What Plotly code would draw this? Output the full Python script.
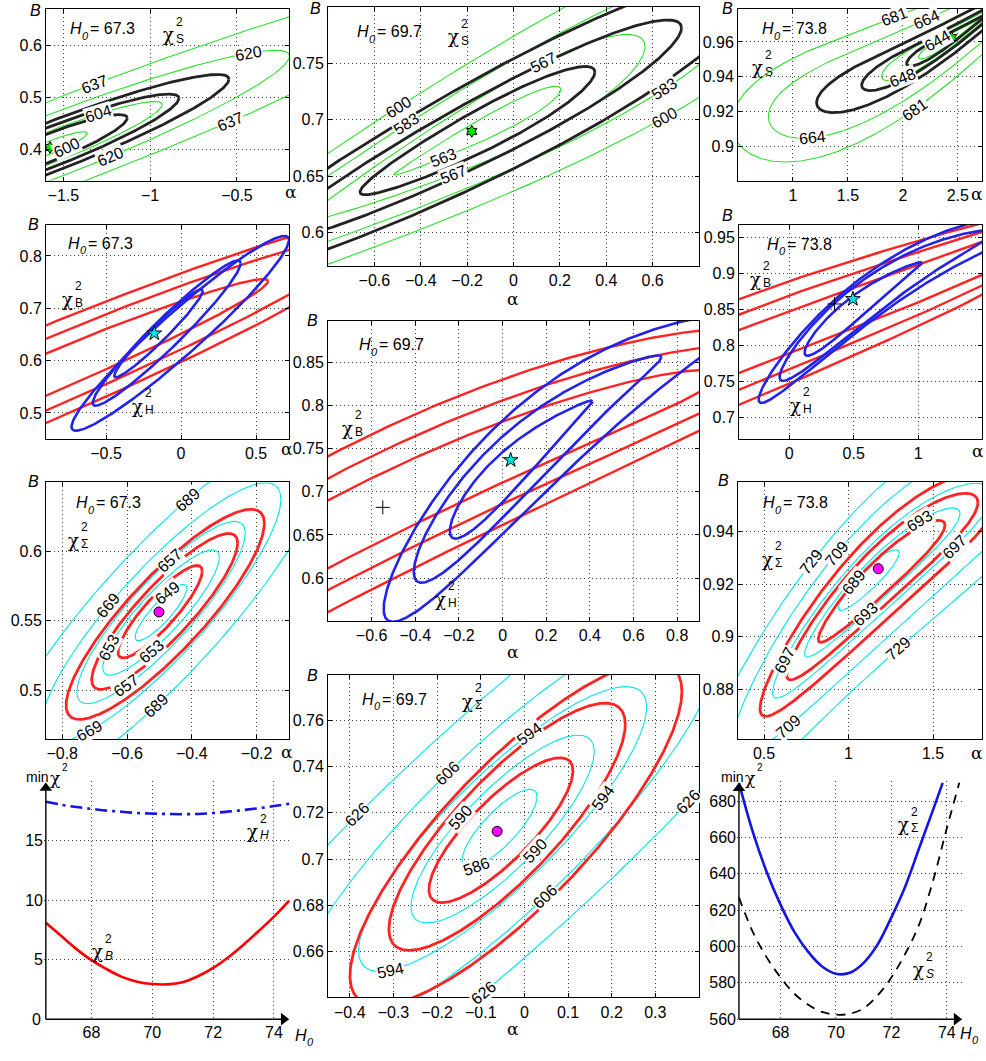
import numpy as np
import plotly.graph_objects as go

FIG_W, FIG_H = 986, 1061
FONT = "Liberation Sans, Arial, Helvetica, sans-serif"
SERIF = "DejaVu Serif, Liberation Serif, serif"

# ---------------- tick values ----------------
A_xticks = [-1.5, -1, -0.5]; A_yticks = [0.4, 0.5, 0.6]
B_xticks = [-0.6, -0.4, -0.2, 0, 0.2, 0.4, 0.6]; B_yticks = [0.6, 0.65, 0.7, 0.75]
C_xticks = [1, 1.5, 2, 2.5]; C_yticks = [0.9, 0.92, 0.94, 0.96]
D_xticks = [-0.5, 0, 0.5]; D_yticks = [0.5, 0.6, 0.7, 0.8]
E_xticks = [0, 0.5, 1]; E_yticks = [0.7, 0.75, 0.8, 0.85, 0.9, 0.95]
F_xticks = [-0.6, -0.4, -0.2, 0, 0.2, 0.4, 0.6, 0.8]; F_yticks = [0.6, 0.65, 0.7, 0.75, 0.8, 0.85]
G_xticks = [-0.8, -0.6, -0.4, -0.2]; G_yticks = [0.5, 0.55, 0.6]
H_xticks = [0.5, 1, 1.5]; H_yticks = [0.88, 0.9, 0.92, 0.94]
I_xticks = [-0.4, -0.3, -0.2, -0.1, 0, 0.1, 0.2, 0.3]; I_yticks = [0.66, 0.68, 0.7, 0.72, 0.74, 0.76]
J_xticks = [68, 70, 72, 74]; J_yticks = [0, 5, 10, 15]
K_xticks = [68, 70, 72, 74]; K_yticks = [560, 580, 600, 620, 640, 660, 680]

H0_values = ["67.3", "69.7", "73.8"]

# ---------------- contour families: (alpha_c, B_c, slope, half-length, half-width) ----------------
# Panel A  (H0 = 67.3, chi2_S)
A_star = (-1.577, 0.404)
A_black = [(-1.577, 0.404, 0.127, 0.445, 0.028), (-1.577, 0.404, 0.127, 0.743, 0.040),
           (-1.577, 0.404, 0.127, 1.031, 0.050)]
A_green = [(-1.577, 0.404, 0.127, 0.215, 0.013), (-1.577, 0.404, 0.127, 0.647, 0.032),
           (-1.577, 0.404, 0.127, 1.38, 0.064), (-1.577, 0.404, 0.127, 2.6, 0.09)]
A_green_lv = [600, 604, 620, 637]
A_green_at = [[(-1.48, -1)], [(-1.295, 1)], [(-1.227, -1), (-0.436, 1)], [(-1.323, 1), (-0.536, -1)]]

# Panel B  (H0 = 69.7, chi2_S)
B_star = (-0.18, 0.6896)
B_black = [(-0.1555, 0.689, 0.105, 0.5065, 0.02), (-0.1555, 0.689, 0.105, 0.88, 0.031),
           (-0.1555, 0.689, 0.105, 1.2, 0.048)]
B_green = [(-0.1555, 0.689, 0.105, 0.36, 0.01), (-0.1555, 0.689, 0.105, 0.7225, 0.029),
           (-0.1555, 0.689, 0.105, 1.25, 0.046), (-0.1555, 0.689, 0.105, 1.7, 0.066)]
B_green_lv = [563, 567, 583, 600]
B_green_at = [[(-0.30, -1)], [(0.1286, 1), (-0.26, -1)], [(-0.46, 1), (0.653, -1)], [(-0.498, 1), (0.653, -1)]]

# Panel C  (H0 = 73.8, chi2_S)
C_star = (2.443, 0.9625)
C_black = [(2.443, 0.9625, 0.0396, 0.409, 0.0035), (2.443, 0.9625, 0.0396, 0.818, 0.0065),
           (2.443, 0.9625, 0.0396, 1.228, 0.0102)]
C_green = [(2.443, 0.9625, 0.0396, 0.30, 0.0025), (2.443, 0.9625, 0.0396, 0.637, 0.0055),
           (2.443, 0.9625, 0.0396, 1.667, 0.017), (2.443, 0.9625, 0.0396, 2.0, 0.025)]
C_green_lv = [644, 648, 664, 681]
C_green_at = [[(2.318, 1)], [(2.0, -1)], [(2.215, 1), (1.182, -1)], [(1.927, 1), (2.109, -1)]]

# Panel D  (H0 = 67.3, chi2_B red, chi2_H blue)
D_star = (-0.178, 0.652)
D_blue = [(-0.15, 0.652, 0.2746, 0.295, 0.022), (-0.0955, 0.6525, 0.2705, 0.4935, 0.038),
          (-0.005, 0.652, 0.246, 0.725, 0.053)]
D_red = [(-1.2, 0.538, 0.12, 1.78, 0.042), (-1.2, 0.538, 0.12, 2.43, 0.07), (-1.2, 0.538, 0.12, 2.78, 0.094)]

# Panel E  (H0 = 73.8)
E_star = (0.494, 0.8644); E_plus = (0.351, 0.8575)
E_blue = [(0.574, 0.8605, 0.137, 0.455, 0.018), (0.775, 0.886, 0.119, 0.85, 0.028),
          (0.962, 0.907, 0.104, 1.2, 0.032)]
E_red = [(-2.0, 0.682, 0.068, 5.5, 0.0314), (-2.0, 0.682, 0.068, 4.7, 0.0569),
         (-2.0, 0.682, 0.068, 4.5, 0.0796)]

# Panel F  (H0 = 69.7)
F_star = (0.037, 0.7367); F_plus = (-0.549, 0.682)
F_blue = [(0.0845, 0.737, 0.23, 0.3265, 0.026), (0.1605, 0.7541, 0.2194, 0.5675, 0.042),
          (0.30, 0.7833, 0.1998, 0.845, 0.058)]
F_red = [(-0.8, 0.651, 0.1318, 1.801, 0.0394), (-0.8, 0.651, 0.1318, 2.11, 0.0648),
         (-0.8, 0.651, 0.1318, 2.237, 0.0902)]

# Panel G  (H0 = 67.3, chi2_Sigma)
G_dot = (-0.5013, 0.5564)
G_red = [(-0.4978, 0.5566, 0.224, 0.13, 0.016), (-0.4837, 0.5568, 0.218, 0.2253, 0.027),
         (-0.482, 0.5547, 0.2134, 0.306, 0.038)]
G_cyan = [(-0.495, 0.556, 0.22, 0.08, 0.01), (-0.495, 0.556, 0.22, 0.18, 0.0215),
          (-0.495, 0.556, 0.22, 0.26, 0.032), (-0.495, 0.556, 0.22, 0.37, 0.0455),
          (-0.495, 0.556, 0.22, 0.52, 0.064)]
G_cyan_lv = [649, 653, 657, 669, 689]
G_cyan_at = [[(-0.4737, 1)], [(-0.655, 1), (-0.525, -1)], [(-0.4685, 1), (-0.6017, -1)],
             [(-0.6583, 1), (-0.7146, -1)], [(-0.412, 1), (-0.5094, -1)]]

# Panel H  (H0 = 73.8, chi2_Sigma)
H_dot = (1.176, 0.9259)
H_red = [(1.196, 0.9233, 0.0579, 0.375, 0.008), (1.2, 0.924, 0.058, 0.566, 0.013),
         (1.2, 0.924, 0.058, 0.724, 0.019)]
H_cyan = [(1.12, 0.922, 0.058, 0.18, 0.005), (1.2, 0.924, 0.058, 0.46, 0.0095),
          (1.2, 0.924, 0.058, 0.65, 0.015), (1.2, 0.924, 0.058, 0.9, 0.026),
          (1.2, 0.924, 0.058, 1.2, 0.034)]
H_cyan_lv = [689, 693, 697, 709, 729]
H_cyan_at = [[(1.028, 1)], [(1.423, 1), (1.098, -1)], [(0.62, 1), (1.63, -1)],
             [(0.930, 1), (0.644, -1)], [(0.782, 1), (1.295, -1)]]

# Panel I  (H0 = 69.7, chi2_Sigma)
I_dot = (-0.0625, 0.712)
I_red = [(-0.0538, 0.7125, 0.156, 0.165, 0.018), (-0.0397, 0.714, 0.164, 0.2708, 0.03),
         (-0.0195, 0.711, 0.162, 0.3803, 0.042)]
I_cyan = [(-0.057, 0.7132, 0.16, 0.086, 0.01), (-0.05, 0.713, 0.16, 0.21, 0.023),
          (-0.05, 0.713, 0.16, 0.33, 0.032), (-0.05, 0.713, 0.16, 0.5, 0.046),
          (-0.05, 0.713, 0.16, 0.9, 0.064)]
I_cyan_lv = [586, 590, 594, 606, 626]
I_cyan_at = [[(-0.11, -1)], [(-0.1465, 1), (0.0252, -1)], [(0.0121, 1), (0.18, -1), (-0.3066, -1)],
             [(-0.177, 1), (0.048, -1)], [(-0.383, 1), (0.376, -1), (-0.093, -1)]]

# Panel J: min chi2 vs H0
J_H0 = [66.5, 67, 67.5, 68, 68.5, 69, 69.5, 70, 70.5, 71, 71.5, 72, 72.5, 73, 73.5, 74, 74.5]
J_chiB = [8.1, 7.0, 5.9, 4.95, 4.2, 3.55, 3.15, 2.95, 2.92, 3.1, 3.6, 4.3, 5.2, 6.25, 7.4, 8.6, 9.95]
J_chiH = [18.25, 18.0, 17.8, 17.65, 17.5, 17.4, 17.3, 17.25, 17.22, 17.2, 17.22, 17.3, 17.42, 17.55,
          17.7, 17.88, 18.08]

# Panel K
K_H0_sig = [66.5, 67, 67.5, 68, 68.5, 69, 69.5, 70, 70.5, 71, 71.5, 72, 72.5, 73, 73.5, 73.85]
K_chiSig = [690, 663, 641, 623, 608, 597, 589, 585, 585.5, 591, 601, 616, 633, 654, 675, 690]
K_H0_S = [66.5, 67, 67.5, 68, 68.5, 69, 69.5, 70, 70.5, 71, 71.5, 72, 72.5, 73, 73.5, 74, 74.45]
K_chiS = [627, 608, 594, 583, 574, 568, 564, 562.5, 563, 566, 573, 583, 596, 612, 636, 665, 690]

# axis origins / arrow ends of the two min-chi2 panels
J_axis = dict(x0=66.5, y0=0, x1=74.5, y1=19.85)
K_axis = dict(x0=66.5, y0=560, x1=74.55, y1=690)

# ---------------- layout of panels ----------------
PANELS = {
    'A': (1, (46, 9, 289, 182), (-1.6, -0.2), (0.34, 0.67), A_xticks, A_yticks),
    'B': (2, (328, 7, 699, 268), (-0.8, 0.8), (0.57, 0.80), B_xticks, B_yticks),
    'C': (3, (738, 9, 982, 182), (0.5, 2.72), (0.88, 0.979), C_xticks, C_yticks),
    'D': (4, (46, 226, 289, 442), (-0.9, 0.72), (0.45, 0.86), D_xticks, D_yticks),
    'E': (5, (739, 226, 982, 442), (-0.39, 1.496), (0.6696, 0.968), E_xticks, E_yticks),
    'F': (6, (328, 323, 699, 625), (-0.8, 0.9), (0.5505, 0.898), F_xticks, F_yticks),
    'G': (7, (46, 485, 289, 744), (-0.85, -0.1), (0.465, 0.65), G_xticks, G_yticks),
    'H': (8, (738, 485, 982, 744), (0.346, 1.79), (0.861, 0.959), H_xticks, H_yticks),
    'I': (9, (328, 679, 699, 1004), (-0.45, 0.4), (0.64, 0.78), I_xticks, I_yticks),
    'J': (10, (44, 786, 291, 1028), (66.44, 74.56), (-0.17, 20.0), J_xticks, J_yticks),
    'K': (11, (737, 786, 964, 1028), (66.43, 74.62), (558.9, 691.1), K_xticks, K_yticks),
}

BLACK_C = 'rgb(35,35,35)'
GREEN_C = 'rgb(40,225,40)'
RED_C = 'rgb(255,35,35)'
BLUE_C = 'rgb(35,35,235)'
CYAN_C = 'rgb(0,232,232)'

fig = go.Figure()


def fmt(v):
    return f"{v:g}".replace('-', '\u2212')


def axnames(pid):
    i = PANELS[pid][0]
    return ('x' if i == 1 else f'x{i}'), ('y' if i == 1 else f'y{i}')


def scales(pid):
    _, (l, t, r, b), xr, yr, _, _ = PANELS[pid]
    return (r - l) / (xr[1] - xr[0]), (b - t) / (yr[1] - yr[0])


def ring(p, c, g, n=500):
    ac, bc, s, E, W = p
    t = np.linspace(0, 2 * np.pi, n)
    d = E * np.cos(t)
    return ac + d, bc + s * d + c * d * d + W * (1 - g * d / E) * np.sin(t)


def label_pt(p, c, g, alpha, branch, kx, ky):
    ac, bc, s, E, W = p
    u = np.clip((alpha - ac) / E, -1, 1)
    t = np.arccos(u) * branch
    d = E * np.cos(t)
    a = ac + d
    b = bc + s * d + c * d * d + W * (1 - g * d / E) * np.sin(t)
    da = -E * np.sin(t)
    db = (s + 2 * c * d) * da + W * ((-g * da / E) * np.sin(t) + (1 - g * d / E) * np.cos(t))
    ang = np.degrees(np.arctan2(-db * ky, da * kx))
    while ang > 90:
        ang -= 180
    while ang < -90:
        ang += 180
    return float(a), float(b), float(ang)


def family(pid, contours, color, width, c=0.0, g=0.0, levels=None, label_at=None):
    xa, ya = axnames(pid)
    kx, ky = scales(pid)
    for i, p in enumerate(contours):
        a, b = ring(p, c, g)
        fig.add_trace(go.Scatter(x=a, y=b, mode='lines', line=dict(color=color, width=width),
                                 xaxis=xa, yaxis=ya, hoverinfo='skip', showlegend=False))
        if levels is not None:
            for (al, br) in label_at[i]:
                lx, ly, ang = label_pt(p, c, g, al, br, kx, ky)
                fig.add_annotation(x=lx, y=ly, xref=xa, yref=ya, text=str(levels[i]), showarrow=False,
                                   textangle=ang, bgcolor='white', borderpad=0,
                                   font=dict(family=FONT, size=16, color='black'))


def marker(pid, pt, symbol, color, size, lw=1):
    xa, ya = axnames(pid)
    fig.add_trace(go.Scatter(x=[pt[0]], y=[pt[1]], mode='markers', xaxis=xa, yaxis=ya,
                             marker=dict(symbol=symbol, color=color, size=size,
                                         line=dict(color='black', width=lw)),
                             hoverinfo='skip', showlegend=False))


# chi2_S panels
family('A', A_green, GREEN_C, 1.1, levels=A_green_lv, label_at=A_green_at)
family('A', A_black, BLACK_C, 2.8)
marker('A', A_star, 'hexagram', 'rgb(0,230,0)', 9)

family('B', B_green, GREEN_C, 1.1, g=-0.5, levels=B_green_lv, label_at=B_green_at)
family('B', B_black, BLACK_C, 2.8, g=-0.2)
marker('B', B_star, 'hexagram', 'rgb(0,230,0)', 9)

family('C', C_green, GREEN_C, 1.1, c=0.0074, g=1.0, levels=C_green_lv, label_at=C_green_at)
family('C', C_black, BLACK_C, 2.8, c=0.0074, g=1.0)
marker('C', C_star, 'hexagram', 'rgb(0,230,0)', 9)

# chi2_B / chi2_H panels
family('D', D_red, RED_C, 2.4)
family('D', D_blue, BLUE_C, 2.6)
marker('D', D_star, 'star', 'rgb(0,230,230)', 11)

family('E', E_red, RED_C, 2.4)
family('E', E_blue, BLUE_C, 2.6, c=-0.04, g=0.5)
marker('E', E_star, 'star', 'rgb(0,230,230)', 11)
marker('E', E_plus, 'cross-thin', 'black', 10)

family('F', F_red, RED_C, 2.4, c=-0.01627)
family('F', F_blue, BLUE_C, 2.6, c=-0.07, g=0.6)
marker('F', F_star, 'star', 'rgb(0,230,230)', 11)
marker('F', F_plus, 'cross-thin', 'black', 10)

# chi2_Sigma panels
family('G', G_cyan, CYAN_C, 1.1, levels=G_cyan_lv, label_at=G_cyan_at)
family('G', G_red, RED_C, 2.8)
marker('G', G_dot, 'circle', 'rgb(255,0,255)', 10)

family('H', H_cyan, CYAN_C, 1.1, c=-0.018, levels=H_cyan_lv, label_at=H_cyan_at)
family('H', H_red, RED_C, 2.8, c=-0.018)
marker('H', H_dot, 'circle', 'rgb(255,0,255)', 10)

family('I', I_cyan, CYAN_C, 1.1, levels=I_cyan_lv, label_at=I_cyan_at)
family('I', I_red, RED_C, 2.8)
marker('I', I_dot, 'circle', 'rgb(255,0,255)', 10)


# min chi2 panels
def arrow_axes(pid, ax):
    xa, ya = axnames(pid)
    kx, ky = scales(pid)
    hx, hy = 5.5 / kx, 5.5 / ky
    fig.add_trace(go.Scatter(x=[ax['x0'], ax['x0']], y=[ax['y0'], ax['y1'] - hy], mode='lines',
                             line=dict(color='black', width=1.4), xaxis=xa, yaxis=ya,
                             hoverinfo='skip', showlegend=False))
    fig.add_trace(go.Scatter(x=[ax['x0'], ax['x1'] - hx], y=[ax['y0'], ax['y0']], mode='lines',
                             line=dict(color='black', width=1.4), xaxis=xa, yaxis=ya,
                             hoverinfo='skip', showlegend=False))
    fig.add_trace(go.Scatter(x=[ax['x0'], ax['x1'] - hx], y=[ax['y1'] - hy, ax['y0']], mode='markers',
                             marker=dict(symbol=['triangle-up', 'triangle-right'], size=11, color='black',
                                         line=dict(width=0)),
                             cliponaxis=False, xaxis=xa, yaxis=ya, hoverinfo='skip', showlegend=False))


xa, ya = axnames('J')
fig.add_trace(go.Scatter(x=J_H0, y=J_chiH, mode='lines', line=dict(color='rgb(20,20,230)', width=2.6,
                         dash='12px,5px,3px,5px', shape='spline'), xaxis=xa, yaxis=ya, showlegend=False))
fig.add_trace(go.Scatter(x=J_H0, y=J_chiB, mode='lines', line=dict(color='rgb(255,0,0)', width=2.6,
                         shape='spline'), xaxis=xa, yaxis=ya, showlegend=False))
arrow_axes('J', J_axis)

xa, ya = axnames('K')
fig.add_trace(go.Scatter(x=K_H0_S, y=K_chiS, mode='lines', line=dict(color='black', width=1.8,
                         dash='9px,7px', shape='spline'), xaxis=xa, yaxis=ya, showlegend=False))
fig.add_trace(go.Scatter(x=K_H0_sig, y=K_chiSig, mode='lines', line=dict(color='rgb(20,20,230)', width=2.6,
                         shape='spline'), xaxis=xa, yaxis=ya, showlegend=False))
arrow_axes('K', K_axis)

# ---------------- axes ----------------
layout_axes = {}
for pid, (i, (l, t, r, b), xr, yr, xt, yt) in PANELS.items():
    framed = pid not in ('J', 'K')
    common = dict(range=list(xr), domain=[l / FIG_W, r / FIG_W], showgrid=True,
                  gridcolor='rgba(0,0,0,0.75)', griddash='1px,3px', gridwidth=1, zeroline=False,
                  tickfont=dict(family=FONT, size=16, color='black'), fixedrange=True)
    xcfg = dict(common)
    xcfg.update(tickvals=xt, ticktext=[fmt(v) for v in xt], anchor=('y' if i == 1 else f'y{i}'))
    ycfg = dict(common)
    ycfg.update(range=list(yr), domain=[1 - b / FIG_H, 1 - t / FIG_H], tickvals=yt,
                ticktext=[fmt(v) for v in yt], anchor=('x' if i == 1 else f'x{i}'))
    for cfg in (xcfg, ycfg):
        if framed:
            cfg.update(showline=True, linecolor='black', linewidth=1, mirror='ticks', ticks='inside',
                       ticklen=4, tickcolor='black')
        else:
            cfg.update(showline=False, ticks='', mirror=False)
    if not framed:
        ycfg['tickvals'] = [v for v in yt if v != yt[0]] if pid == 'J' else yt
        ycfg['ticktext'] = [fmt(v) for v in ycfg['tickvals']]
    layout_axes['xaxis' if i == 1 else f'xaxis{i}'] = xcfg
    layout_axes['yaxis' if i == 1 else f'yaxis{i}'] = ycfg

fig.update_layout(width=FIG_W, height=FIG_H, margin=dict(l=0, r=0, t=0, b=0),
                  plot_bgcolor='white', paper_bgcolor='white', showlegend=False,
                  font=dict(family=FONT, size=16, color='black'), **layout_axes)


# ---------------- texts ----------------
def pxa(x, y, text, size=16, xanchor='center', yanchor='middle', italic=False, family=FONT):
    fig.add_annotation(x=x / FIG_W, y=1 - y / FIG_H, xref='paper', yref='paper', text=text,
                       showarrow=False, xanchor=xanchor, yanchor=yanchor,
                       font=dict(family=family, size=size, color='black',
                                 style='italic' if italic else 'normal'))


def chi(xc, yc, sub, italic=False):
    pxa(xc, yc + 1, '\u03c7', size=18, family=SERIF)
    pxa(xc + 6, yc - 12, '2', size=12, xanchor='left')
    pxa(xc + 6, yc + 5, sub, size=12, xanchor='left', italic=italic)


def h0(x, y, val=None):
    pxa(x, y, 'H', size=16, xanchor='left', italic=True)
    pxa(x + 12, y + 7, '0', size=11, xanchor='left', italic=True)
    if val is not None:
        pxa(x + 20, y, '= ' + val, size=16, xanchor='left')


# J: y tick "0" at the origin
pxa(36, 1026, '0', size=16)

# B (italic) axis labels and alpha labels
for (x, y) in [(35, 11), (315, 9), (727, 9), (33, 226), (727, 217), (312, 323), (33, 485), (723, 484),
               (312, 680)]:
    pxa(x, y, 'B', size=16, italic=True)
for (x, y) in [(291, 193), (977, 195), (287, 452), (978, 454), (287, 757), (977, 758),
               (513, 301), (513, 656), (513, 1036)]:
    pxa(x, y, '\u03b1', size=17, family=SERIF)

h0(68, 29, H0_values[0]); chi(168, 34, 'S')
h0(355, 32, H0_values[1]); chi(453, 36, 'S')
h0(760, 29, H0_values[2]); chi(757, 67, 'S')
h0(66, 245, H0_values[0]); chi(67, 300, 'B'); chi(137, 408, 'H')
h0(765, 246, H0_values[2]); chi(755, 280, 'B'); chi(795, 407, 'H')
h0(357, 347, H0_values[1]); chi(347, 430, 'B'); chi(440, 602, 'H')
h0(74, 506, H0_values[0]); chi(73, 543, '\u03a3')
h0(761, 506, H0_values[2]); chi(767, 562, '\u03a3')
h0(360, 704, H0_values[1]); chi(467, 705, '\u03a3')

# min chi2 labels
pxa(24, 782, 'min', size=14, xanchor='left')
pxa(55, 783, '\u03c7', size=17, family=SERIF)
pxa(60, 773, '2', size=10, xanchor='left')
pxa(719, 782, 'min', size=14, xanchor='left')
pxa(750, 783, '\u03c7', size=17, family=SERIF)
pxa(755, 773, '2', size=10, xanchor='left')
chi(252, 836, 'H', italic=True); chi(97, 957, 'B', italic=True)
chi(903, 829, '\u03a3'); chi(918, 975, 'S', italic=True)
h0(293, 1042)
h0(958, 1040)

fig.write_html("out.html")
